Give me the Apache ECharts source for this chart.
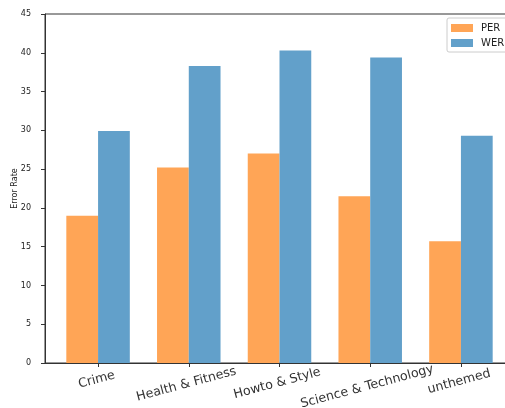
<!DOCTYPE html>
<html><head><meta charset="utf-8">
<script src="https://cdn.jsdelivr.net/npm/echarts@6/dist/echarts.min.js"></script>
<style>html,body{margin:0;padding:0;background:#fff}#c{width:505px;height:408px}</style>
</head><body><div id="c"></div>
<script>
const categories = ['Crime', 'Health & Fitness', 'Howto & Style', 'Science & Technology', 'unthemed'];
const perValues = [19.0, 25.2, 27.0, 21.5, 15.7];
const werValues = [29.9, 38.3, 40.3, 39.4, 29.3];
const seriesNames = ['PER', 'WER'];
const seriesColors = ['#ffa556', '#62a0ca'];
const yMin = 0, yMax = 45, yInterval = 5;
const categoryPositions = categories.map((c, i) => i);

const xMin = -0.585, xMax = 4.585, barUnit = 0.35;
const chartW = 505, gridLeft = 45, gridRight = -9, gridTop = 14, gridBottom = 45;
const gridWidth = chartW - gridLeft - gridRight;
const pxPerUnit = gridWidth / (xMax - xMin);
const barPx = barUnit * pxPerUnit;
// label grid: category bands of one unit each, centred on the same positions
const labelLeft = gridLeft + (-0.5 - xMin) * pxPerUnit;
const labelWidth = categories.length * pxPerUnit;

const ctx = document.createElement('canvas').getContext('2d');
const labelFont = 12.6;
ctx.font = labelFont + 'px "DejaVu Sans"';
const rot = 15 * Math.PI / 180;
const lineH = 15, labelMargin = 3, labelPad = 10;
const rich = {};
categories.forEach((c, i) => {
  const w = ctx.measureText(c).width;
  const D = labelPad - labelMargin + (w / 2) * Math.sin(rot) + (lineH / 2) * Math.cos(rot);
  const a = D * Math.cos(rot);
  const P = Math.max(0, a - lineH / 2);
  const R = 2 * a * Math.tan(rot);
  rich['c' + i] = {fontSize: labelFont, fontFamily: 'DejaVu Sans', color: '#333', lineHeight: lineH, padding: [P, R, 0, 0]};
});

const chart = echarts.init(document.getElementById('c'), null, {renderer: 'canvas'});
chart.setOption({
  animation: false,
  backgroundColor: '#fff',
  grid: [
    {left: gridLeft, right: gridRight, top: gridTop, bottom: gridBottom, containLabel: false, outerBoundsMode: 'none',
     show: true, borderColor: '#333', borderWidth: 1, backgroundColor: 'transparent'},
    {left: labelLeft, width: labelWidth, top: gridTop, bottom: gridBottom, containLabel: false, outerBoundsMode: 'none', show: false}
  ],
  legend: {
    data: seriesNames, orient: 'vertical', left: 447, top: 18,
    itemWidth: 22, itemHeight: 8, itemGap: 3, icon: 'rect',
    padding: [4, 14, 3, 4], borderColor: '#ccc', borderWidth: 1, borderRadius: 2,
    backgroundColor: 'rgba(255,255,255,0.8)',
    textStyle: {fontSize: 10, fontFamily: 'DejaVu Sans', color: '#222', lineHeight: 12, padding: [0, 0, 0, 3]}
  },
  xAxis: [
    {
      type: 'value', gridIndex: 0, min: xMin, max: xMax,
      splitLine: {show: false},
      axisLine: {show: true, onZero: false, lineStyle: {color: '#333', width: 1}},
      axisTick: {show: true, length: 4, customValues: categoryPositions, lineStyle: {color: '#333'}},
      axisLabel: {show: false}
    },
    {
      type: 'category', gridIndex: 1, data: categories, boundaryGap: true,
      axisLine: {show: false}, axisTick: {show: false}, splitLine: {show: false},
      axisLabel: {
        interval: 0, rotate: 15, align: 'center', verticalAlign: 'top', margin: labelMargin, hideOverlap: false,
        formatter: (v, i) => '{c' + i + '|' + v + '}',
        rich: rich
      }
    }
  ],
  yAxis: [
    {
      type: 'value', gridIndex: 0, min: yMin, max: yMax, interval: yInterval,
      name: 'Error Rate', nameLocation: 'middle', nameGap: 26, nameMoveOverlap: false,
      nameTextStyle: {fontSize: 8, fontFamily: 'DejaVu Sans', color: '#222'},
      splitLine: {show: false},
      axisLine: {show: true, onZero: false, lineStyle: {color: '#333', width: 1}},
      axisTick: {show: true, length: 4, lineStyle: {color: '#333'}},
      axisLabel: {fontSize: 8, fontFamily: 'DejaVu Sans', color: '#222', margin: 14}
    },
    {type: 'value', gridIndex: 1, min: yMin, max: yMax, show: false}
  ],
  series: [
    {name: seriesNames[0], type: 'bar', xAxisIndex: 0, yAxisIndex: 0, barWidth: barPx, barGap: '0%', itemStyle: {color: seriesColors[0]},
     data: perValues.map((v, i) => [categoryPositions[i], v])},
    {name: seriesNames[1], type: 'bar', xAxisIndex: 0, yAxisIndex: 0, barWidth: barPx, barGap: '0%', itemStyle: {color: seriesColors[1]},
     data: werValues.map((v, i) => [categoryPositions[i], v])}
  ]
});
</script></body></html>
